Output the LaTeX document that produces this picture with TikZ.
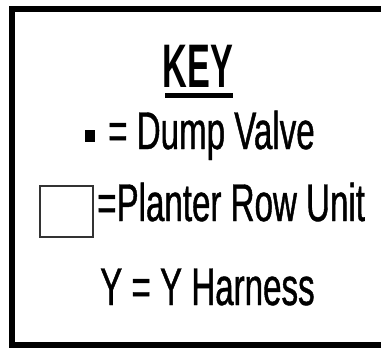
\documentclass[tikz,border=0pt]{standalone}
\usepackage{fontspec}
\setmainfont[FakeStretch=0.625, FakeBold=0.8]{Liberation Sans}
\newfontfamily\keyfont[FakeStretch=0.557]{Liberation Sans}
\usepackage{tikz}
\usetikzlibrary{positioning}

\begin{document}
\begin{tikzpicture}[x=1pt, y=-1pt,
    entry/.style={anchor=base west, inner sep=0pt,
                  font=\fontsize{53}{60}\selectfont},
    title/.style={anchor=base west, inner sep=0pt,
                  font=\keyfont\bfseries\fontsize{61.5}{70}\selectfont},
    valve/.style={fill=black, minimum width=10pt, minimum height=12pt, inner sep=0pt},
    rowunit/.style={draw=black!80, line width=1.2pt, minimum width=53pt,
                    minimum height=51pt, inner sep=0pt}]

    \useasboundingbox (0,0) rectangle (381,348);
    \draw[line width=6pt] (11.5,8.5) rectangle (390,345);

    \node[title] (key) at (162.5,87) {KEY};
    \draw[line width=4.5pt] ([xshift=2.5pt,yshift=-8.7pt]key.base west)
      -- ([yshift=-8.7pt]key.base east);

    \node[valve] (dv) at (90,136) {};
    \node[entry] (dvtext) at (108,149) {= Dump Valve};

    \node[rowunit] (ru) at (66.5,211.5) {};
    \node[entry] (rutext) at (97,221) {=Planter Row Unit};

    \node[entry] (yh) at (100,305) {Y = Y Harness};
  \end{tikzpicture}
\end{document}
